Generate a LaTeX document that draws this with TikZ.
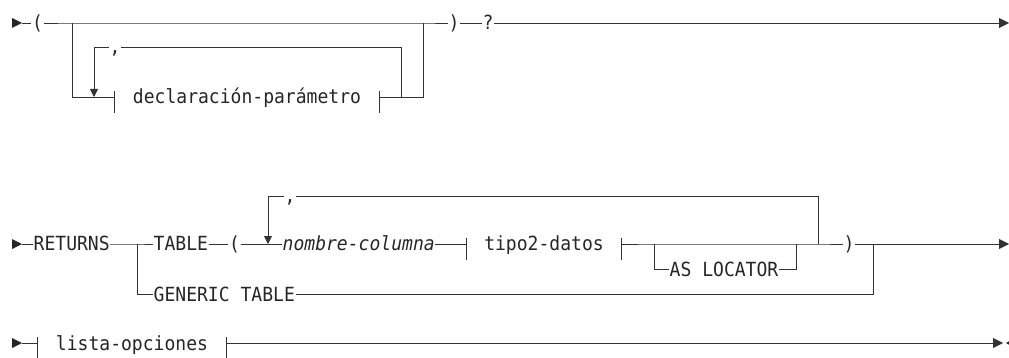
\documentclass[tikz,border=0pt]{standalone}
\usepackage{fontspec}
\setmainfont[FakeStretch=0.925]{DejaVu Sans Mono}
\usepackage{tikz}
\usetikzlibrary{arrows.meta, positioning}

\begin{document}
\begin{tikzpicture}[x=1pt, y=-1pt, >={Triangle[length=8pt, width=8pt]},
  font=\fontsize{19.5}{22}\selectfont,
  rail/.style={line width=0.9pt, draw=black!80},
  word/.style={inner xsep=0.5pt, inner ysep=0pt, text height=14pt, text depth=0pt, text=black!85},
  frag/.style={word, inner xsep=18pt},
  endtip/.style={-{Triangle[length=10pt, width=10pt]}},
  startmark/.pic={\fill[black!85] (0,-5) -- (10,0) -- (0,5) -- cycle;}]
  \useasboundingbox (0,0) rectangle (1009,358);

  % Row 1: ( declaracion-parametro, ... ) ?
  \pic at (12,23) {startmark};
  \coordinate (s1) at (22,23);
  \node[word] (lp1) at (37.5,23) {(};
  \coordinate (a1) at (72,23);
  \coordinate (b1) at (423,23);
  \node[word] (rp1) at (454,23) {)};
  \node[word] (q1) at (488,23) {?};
  \coordinate (e1) at (1009,23);
  \coordinate (a1d) at (72,97);
  \coordinate (l1) at (94,97);
  \node[frag] (dp) at (247,97) {declaración-parámetro};
  \coordinate (r1) at (401,97);
  \coordinate (b1d) at (423,97);
  \coordinate (r1u) at (401,47);
  \node[word] (c1) at (115,47) {,};
  \coordinate (l1u) at (94,47);
  \draw[rail] (s1) -- (lp1) -- (a1) -- (b1) -- (rp1) -- (q1);
  \draw[rail, endtip] (q1) -- (e1);
  \draw[rail] (a1) -- (a1d) -- (dp);
  \draw[rail] (dp) -- (b1d) -- (b1);
  \draw[rail] (r1) -- (r1u) -- (c1) -- (l1u);
  \draw[rail, ->] (l1u) -- (l1);

  % Row 2: RETURNS TABLE (...) / GENERIC TABLE
  \pic at (12,244) {startmark};
  \coordinate (s2) at (22,244);
  \node[word, anchor=west] (ret) at (33,244) {RETURNS};
  \coordinate (a2) at (137,244);
  \node[word, anchor=west] (tab) at (153,244) {TABLE};
  \node[word] (lp2) at (234.5,244) {(};
  \coordinate (l2) at (268,244);
  \node[word, anchor=west] (col) at (282,244) {\itshape nombre-columna};
  \node[frag] (td) at (544,244) {tipo2-datos};
  \coordinate (a3) at (654,244);
  \coordinate (a3d) at (654,269);
  \node[word, anchor=west] (loc) at (669,269) {AS LOCATOR};
  \coordinate (b3d) at (796,269);
  \coordinate (b3) at (796,244);
  \coordinate (r2) at (818,244);
  \coordinate (r2u) at (818,196);
  \node[word] (c2) at (290,196) {,};
  \coordinate (l2u) at (268,196);
  \node[word] (rp2) at (849,244) {)};
  \coordinate (b2) at (873,244);
  \coordinate (e2) at (1009,244);
  \coordinate (a2d) at (137,294);
  \node[word, anchor=west] (gen) at (153,294) {GENERIC TABLE};
  \coordinate (b2d) at (873,294);
  \draw[rail] (s2) -- (ret) -- (a2) -- (tab) -- (lp2) -- (col) -- (td);
  \draw[rail] (td) -- (a3) -- (b3) -- (r2) -- (rp2) -- (b2);
  \draw[rail, endtip] (b2) -- (e2);
  \draw[rail] (a3) -- (a3d) -- (loc) -- (b3d) -- (b3);
  \draw[rail] (r2) -- (r2u) -- (c2) -- (l2u);
  \draw[rail, ->] (l2u) -- (l2);
  \draw[rail] (a2) -- (a2d) -- (gen) -- (b2d) -- (b2);

  % Row 3: lista-opciones
  \pic at (12,343) {startmark};
  \coordinate (s3) at (22,343);
  \node[frag] (lo) at (132,343) {lista-opciones};
  \coordinate (e3) at (1003,343);
  \draw[rail] (s3) -- (lo);
  \draw[rail, endtip] (lo) -- (e3);
  \fill[black!85] (1006,343) -- (1013,339) -- (1013,347) -- cycle;

  % fragment ticks
  \foreach \f in {dp, td, lo}
    \foreach \s in {west, east}
      \draw[rail] ([yshift=6pt]\f.\s) -- ([yshift=-16pt]\f.\s);
\end{tikzpicture}
\end{document}
